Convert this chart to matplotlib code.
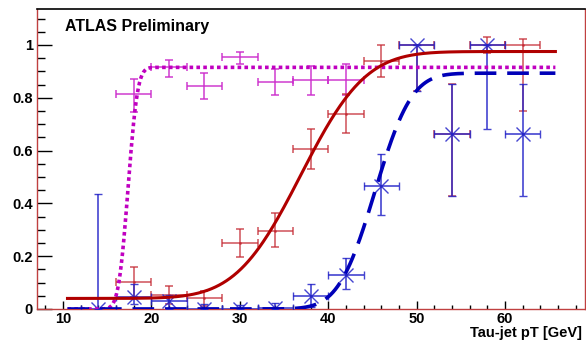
import numpy as np
import matplotlib
matplotlib.use("Agg")
import matplotlib.pyplot as plt
from matplotlib.ticker import MultipleLocator, FixedLocator
from math import erf

plt.rcParams['font.family'] = ['Liberation Sans', 'DejaVu Sans']
plt.rcParams['font.weight'] = 'bold'

# ---- data ----
bin_halfwidth = 2.0

mag_x = [18, 22, 26, 30, 34, 38, 42]
mag_y = [0.813, 0.915, 0.845, 0.956, 0.860, 0.866, 0.869]
mag_lo = [0.066, 0.038, 0.051, 0.028, 0.050, 0.055, 0.060]
mag_hi = [0.057, 0.028, 0.048, 0.019, 0.050, 0.055, 0.060]

red_x = [18, 22, 26, 30, 34, 38, 42, 46, 50, 54, 58, 62]
red_y = [0.101, 0.053, 0.040, 0.249, 0.297, 0.605, 0.739, 0.939, 1.0, 0.663, 1.0, 1.0]
red_lo = [0.057, 0.034, 0.027, 0.053, 0.062, 0.076, 0.074, 0.059, 0.175, 0.235, 0.030, 0.250]
red_hi = [0.057, 0.034, 0.027, 0.053, 0.066, 0.076, 0.074, 0.059, 0.0, 0.190, 0.030, 0.023]

blue_x = [14, 18, 22, 26, 30, 34, 38, 42, 46, 50, 54, 58, 62]
blue_y = [0.0, 0.044, 0.030, 0.0, 0.0, 0.003, 0.049, 0.129, 0.466, 1.0, 0.663, 1.0, 0.663]
blue_lo = [0.0, 0.025, 0.030, 0.0, 0.0, 0.003, 0.040, 0.054, 0.110, 0.175, 0.235, 0.320, 0.235]
blue_hi = [0.434, 0.050, 0.023, 0.020, 0.015, 0.020, 0.046, 0.063, 0.120, 0.0, 0.190, 0.0, 0.190]

# fit parameters (erf turn-on curves)
fit_range = (10.5, 65.7)
mag_fit = dict(base=0.0, plateau=0.915, mu=17.35, sigma=0.85)
red_fit = dict(base=0.04, plateau=0.975, mu=36.9, sigma=5.75)
blue_fit = dict(base=0.0, plateau=0.893, mu=45.3, sigma=3.25)

x_ticks = [10, 20, 30, 40, 50, 60]
y_ticks = [0, 0.2, 0.4, 0.6, 0.8, 1.0]
y_ticklabels = ["0", "0.2", "0.4", "0.6", "0.8", "1"]


def turnon(x, base, plateau, mu, sigma):
    return np.array([base + (plateau - base) * 0.5 * (1 + erf((v - mu) / (np.sqrt(2) * sigma))) for v in x])


W, H = 586, 343
fig = plt.figure(figsize=(W / 100, H / 100), dpi=100)
ax = fig.add_axes([37 / W, 34 / H, 548 / W, 300 / H])

c_mag = '#cc2ccc'
c_red = '#c42a34'
c_blue = '#2424c8'

ax.errorbar(mag_x, mag_y, xerr=bin_halfwidth, yerr=[mag_lo, mag_hi], fmt='none',
            ecolor=c_mag, elinewidth=1.2, capsize=3, capthick=1.2, alpha=0.85, zorder=2)
ax.errorbar(red_x, red_y, xerr=bin_halfwidth, yerr=[red_lo, red_hi], fmt='.', ms=2,
            color=c_red, ecolor=c_red, elinewidth=1.2, capsize=3, capthick=1.2, alpha=0.75, zorder=3)
ax.errorbar(blue_x, blue_y, xerr=bin_halfwidth, yerr=[blue_lo, blue_hi], fmt='x', ms=10, mew=1,
            color=c_blue, ecolor=c_blue, elinewidth=1.2, capsize=3, capthick=1.2, alpha=0.85, zorder=4)

xf = np.linspace(fit_range[0], fit_range[1], 400)
ax.plot(xf, turnon(xf, **mag_fit), color='#c000c0', lw=2.6, ls=(0, (1.0, 0.9)), zorder=5)
ax.plot(xf, turnon(xf, **red_fit), color='#b00000', lw=2.2, zorder=6)
ax.plot(xf, turnon(xf, **blue_fit), color='#0000b8', lw=2.6, ls=(0, (6, 3)), zorder=7)

ax.set_xlim(7.05, 69.05)
ax.set_ylim(0, 1.136)

ax.xaxis.set_major_locator(FixedLocator(x_ticks))
ax.xaxis.set_minor_locator(MultipleLocator(2))
ax.yaxis.set_major_locator(FixedLocator(y_ticks))
ax.set_yticklabels(y_ticklabels)
ax.yaxis.set_minor_locator(MultipleLocator(0.05))
ax.tick_params(axis='x', which='major', direction='in', length=6, width=1, pad=2, labelsize=10.5)
ax.tick_params(axis='x', which='minor', direction='in', length=3, width=1)
ax.tick_params(axis='y', which='major', direction='in', length=11, width=1, pad=3, labelsize=10.5)
ax.tick_params(axis='y', which='minor', direction='in', length=5.5, width=1)
for lab in ax.get_xticklabels() + ax.get_yticklabels():
    lab.set_fontweight('bold')

for s in ['left', 'right', 'bottom']:
    ax.spines[s].set_color('#c04040')
    ax.spines[s].set_linewidth(1)
ax.spines['top'].set_color('black')
ax.spines['top'].set_linewidth(1.2)

fig.text(65 / W, 1 - 27 / H, 'ATLAS Preliminary', fontsize=11.5, fontweight='bold',
         ha='left', va='center')
fig.text(582 / W, 1 - 333 / H, 'Tau-jet pT [GeV]', fontsize=10.5, fontweight='bold',
         ha='right', va='center')

fig.savefig('out.png', dpi=100)
